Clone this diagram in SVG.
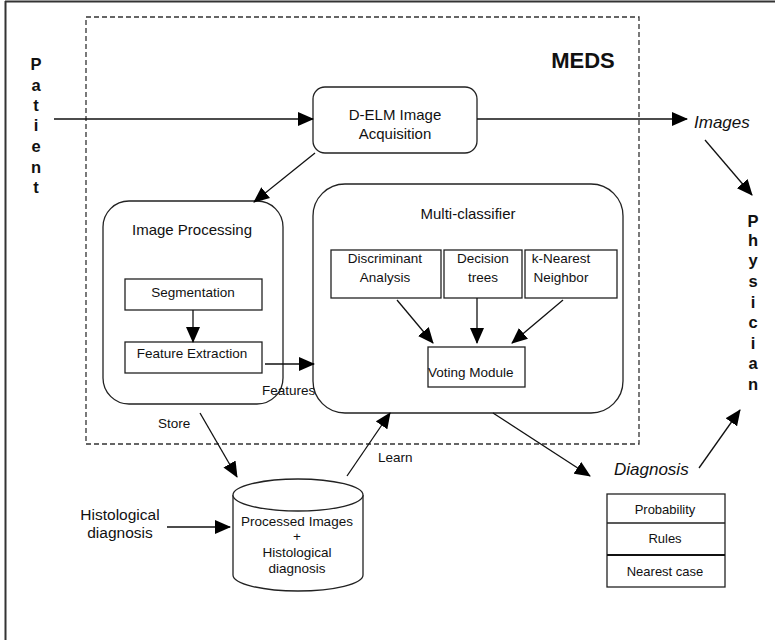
<svg xmlns="http://www.w3.org/2000/svg" width="775" height="640" viewBox="0 0 775 640">
<defs>
<marker id="ah" viewBox="0 0 16 14" refX="15" refY="7" markerWidth="16" markerHeight="14" markerUnits="userSpaceOnUse" orient="auto"><path d="M0,0 L16,7 L0,14 z" fill="#000"/></marker>
<style>
text{font-family:"Liberation Sans",Arial,sans-serif;fill:#111;}
.t15{font-size:15px;text-anchor:middle;}
.t13{font-size:13.5px;text-anchor:middle;}
.it{font-size:17px;font-style:italic;}
.bl{font-size:16.5px;font-weight:bold;text-anchor:middle;}
.box{fill:#fff;stroke:#222;stroke-width:1.3;}
.ln{fill:none;stroke:#111;stroke-width:1.3;marker-end:url(#ah);}
</style>
</defs>
<rect width="775" height="640" fill="#fff"/>
<g id="frame">
<line x1="5" y1="1.5" x2="775" y2="1.5" stroke="#333" stroke-width="2"/>
<line x1="5.5" y1="1" x2="5.5" y2="640" stroke="#333" stroke-width="2"/>
</g>
<g id="meds">
<rect x="86" y="17" width="553" height="427" fill="none" stroke="#333" stroke-width="1.3" stroke-dasharray="5,3"/>
<text x="583" y="68" style="font-size:22px;font-weight:bold;text-anchor:middle;">MEDS</text>
</g>
<g id="patient">
<text class="bl" x="36" y="70">P</text>
<text class="bl" x="36" y="91">a</text>
<text class="bl" x="36" y="111">t</text>
<text class="bl" x="36" y="131">i</text>
<text class="bl" x="36" y="152">e</text>
<text class="bl" x="36" y="173">n</text>
<text class="bl" x="36" y="193">t</text>
</g>
<g id="physician">
<text class="bl" x="753" y="227">P</text>
<text class="bl" x="753" y="246">h</text>
<text class="bl" x="753" y="266">y</text>
<text class="bl" x="753" y="287">s</text>
<text class="bl" x="753" y="308">i</text>
<text class="bl" x="753" y="328">c</text>
<text class="bl" x="753" y="349">i</text>
<text class="bl" x="753" y="369">a</text>
<text class="bl" x="753" y="390">n</text>
</g>
<g id="acquisition">
<rect class="box" x="313" y="87" width="164" height="66" rx="12"/>
<text class="t15" x="395" y="120">D-ELM Image</text>
<text class="t15" x="395" y="139">Acquisition</text>
</g>
<g id="imageproc">
<rect class="box" x="103" y="201" width="180" height="203" rx="26"/>
<text class="t15" x="192" y="235">Image Processing</text>
</g>
<g id="segmentation">
<rect class="box" x="125" y="279" width="137" height="31"/>
<text class="t13" x="193" y="297">Segmentation</text>
</g>
<g id="featextr">
<rect class="box" x="125" y="342" width="137" height="31"/>
<text class="t13" x="192" y="358">Feature Extraction</text>
</g>
<g id="multiclassifier">
<rect class="box" x="313" y="184" width="310" height="229" rx="32"/>
<text class="t15" x="468" y="219">Multi-classifier</text>
</g>
<g id="discriminant">
<rect class="box" x="331" y="250" width="110" height="48"/>
<text class="t13" x="385" y="263">Discriminant</text>
<text class="t13" x="385" y="282">Analysis</text>
</g>
<g id="dtrees">
<rect class="box" x="444" y="250" width="78" height="48"/>
<text class="t13" x="483" y="263">Decision</text>
<text class="t13" x="483" y="282">trees</text>
</g>
<g id="knn">
<rect class="box" x="525" y="250" width="92" height="48"/>
<text class="t13" x="561" y="263">k-Nearest</text>
<text class="t13" x="561" y="282">Neighbor</text>
</g>
<g id="voting">
<rect class="box" x="428" y="347" width="97" height="40"/>
<text x="428" y="377" style="font-size:13.5px;">Voting Module</text>
</g>
<g id="database">
<path d="M233,495 L233,575 A65,16 0 0 0 363,575 L363,495" class="box"/>
<ellipse cx="298" cy="495" rx="65" ry="16" class="box"/>
<text class="t13" x="297" y="526">Processed Images</text>
<text class="t13" x="297" y="541">+</text>
<text class="t13" x="297" y="557">Histological</text>
<text class="t13" x="297" y="573">diagnosis</text>
</g>
<g id="histo">
<text x="120" y="520" style="font-size:15.5px;text-anchor:middle;">Histological</text>
<text x="120" y="538" style="font-size:15.5px;text-anchor:middle;">diagnosis</text>
</g>
<g id="diagnosis">
<text class="it" x="614" y="475">Diagnosis</text>
<rect class="box" x="607" y="494" width="118" height="93"/>
<line x1="607" y1="523" x2="725" y2="523" stroke="#222" stroke-width="1.3"/>
<line x1="607" y1="555" x2="725" y2="555" stroke="#111" stroke-width="2.2"/>
<text x="665" y="514" style="font-size:13px;text-anchor:middle;">Probability</text>
<text x="665" y="543" style="font-size:13px;text-anchor:middle;">Rules</text>
<text x="665" y="576" style="font-size:13px;text-anchor:middle;">Nearest case</text>
</g>
<g id="images">
<text class="it" x="694" y="128">Images</text>
</g>
<g id="connectors">
<line class="ln" x1="54" y1="119" x2="313" y2="119"/>
<line class="ln" x1="477" y1="119" x2="687" y2="119"/>
<line class="ln" x1="705" y1="140" x2="752" y2="195"/>
<line class="ln" x1="315" y1="153" x2="254" y2="202"/>
<line class="ln" x1="193" y1="310" x2="193" y2="342"/>
<line class="ln" x1="265" y1="364" x2="314" y2="364"/>
<line class="ln" x1="397" y1="300" x2="433" y2="343"/>
<line class="ln" x1="477" y1="298" x2="477" y2="343"/>
<line class="ln" x1="563" y1="300" x2="512" y2="343"/>
<line class="ln" x1="200" y1="413" x2="237" y2="477"/>
<line class="ln" x1="347" y1="476" x2="390" y2="413"/>
<line class="ln" x1="167" y1="527" x2="230" y2="527"/>
<line class="ln" x1="493" y1="413" x2="590" y2="476"/>
<line class="ln" x1="699" y1="468" x2="740" y2="410"/>
<text x="262" y="395" style="font-size:13.5px;">Features</text>
<text x="158" y="428" style="font-size:13.5px;">Store</text>
<text x="378" y="462" style="font-size:13.5px;">Learn</text>
</g>
</svg>
